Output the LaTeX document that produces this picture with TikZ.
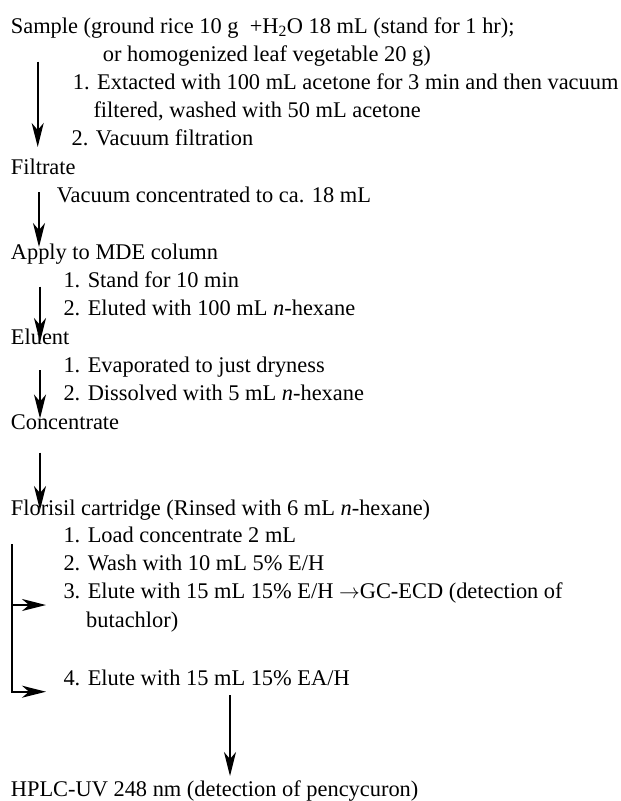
\documentclass[tikz,border=0pt]{standalone}
\usepackage{fontspec}
\setmainfont{Liberation Serif}
\usetikzlibrary{arrows.meta}
\tikzset{
  txt/.style={anchor=base west, inner sep=0pt, font=\fontsize{22.4}{28}\selectfont},
  flow/.style={line width=1.7pt, -{Stealth[length=24pt,width=12pt,inset=7pt]}},
  plain/.style={line width=1.7pt}
}
\begin{document}
\begin{tikzpicture}[x=1pt,y=-1pt]
\useasboundingbox (0,0) rectangle (621,801);
% texts
\node[txt] (sample) at (10.7,33.3) {Sample (ground rice 10 g \ +H\textsubscript{2}O 18 mL (stand for 1 hr);};
\node[txt] (sample2) at (102.7,61.7) {or homogenized leaf vegetable 20 g)};
\node[txt] (ext1) at (72.7,89.3) {1. Extacted with 100 mL acetone for 3 min and then vacuum};
\node[txt] (ext2) at (93.3,117.7) {filtered, washed with 50 mL acetone};
\node[txt] (ext3) at (71.5,145.7) {2. Vacuum filtration};
\node[txt] (filtrate) at (10.7,174) {Filtrate};
\node[txt] (vac) at (56.7,202.7) {Vacuum concentrated to ca. 18 mL};
\node[txt] (apply) at (10.7,259.3) {Apply to MDE column};
\node[txt] (stand) at (63.3,287.3) {1. Stand for 10 min};
\node[txt] (elut) at (63.3,315) {2. Eluted with 100 mL \textit{n}-hexane};
\node[txt] (eluent) at (10.7,344) {Eluent};
\node[txt] (evap) at (63.3,372) {1. Evaporated to just dryness};
\node[txt] (diss) at (63.3,400) {2. Dissolved with 5 mL \textit{n}-hexane};
\node[txt] (conc) at (10.7,429) {Concentrate};
\node[txt] (flor) at (10.7,515) {Florisil cartridge (Rinsed with 6 mL \textit{n}-hexane)};
\node[txt] (load) at (63.3,542.7) {1. Load concentrate 2 mL};
\node[txt] (wash) at (63.3,570) {2. Wash with 10 mL 5\% E/H};
\node[txt] (el3) at (63.3,598.3) {3. Elute with 15 mL 15\% E/H $\rightarrow$GC-ECD (detection of};
\node[txt] (el3b) at (86,627.3) {butachlor)};
\node[txt] (el4) at (63.3,685) {4. Elute with 15 mL 15\% EA/H};
\node[txt] (hplc) at (10.7,796.7) {HPLC-UV 248 nm (detection of pencycuron)};
% connector coordinates
\coordinate (a1s) at (37.7,61.7);  \coordinate (a1e) at (37.7,147);
\coordinate (a2s) at (39,192);     \coordinate (a2e) at (39,247);
\coordinate (a3s) at (40,286.7);   \coordinate (a3e) at (40,342);
\coordinate (a4s) at (40,370);     \coordinate (a4e) at (40,418.5);
\coordinate (a5s) at (40,452.7);   \coordinate (a5e) at (40,510);
\coordinate (bt) at (12.3,544);
\coordinate (b1) at (12.3,605);    \coordinate (b1e) at (46,605);
\coordinate (b2e) at (46,691.7);
\coordinate (a6s) at (230,695);    \coordinate (a6e) at (230,776);
% connectors
\draw[flow] (a1s) -- (a1e);
\draw[flow] (a2s) -- (a2e);
\draw[flow] (a3s) -- (a3e);
\draw[flow] (a4s) -- (a4e);
\draw[flow] (a5s) -- (a5e);
\draw[flow] (bt) |- (b2e);
\draw[flow] (b1) -- (b1e);
\draw[flow] (a6s) -- (a6e);
\end{tikzpicture}
\end{document}
